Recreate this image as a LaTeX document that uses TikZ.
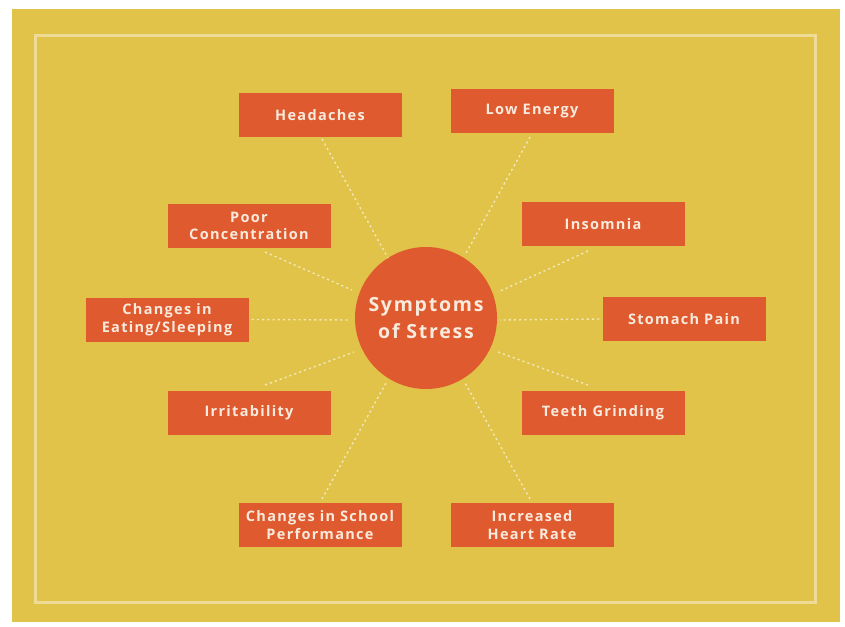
\documentclass[tikz,border=0pt]{standalone}
\usepackage{fontspec}
\setmainfont{Open Sans}[LetterSpace=9]
\definecolor{bgyellow}{HTML}{E0C348}
\definecolor{boxorange}{HTML}{E05A2F}
\definecolor{framecol}{HTML}{EEDB96}
\definecolor{txtcol}{HTML}{F8EBDD}
\definecolor{dotcol}{HTML}{F2E7B8}
\tikzset{
  symbox/.style={fill=boxorange, draw=none, minimum width=163pt, minimum height=44pt, inner sep=0pt,
    text=txtcol, font=\fontsize{14.5}{17.5}\selectfont\bfseries, align=center},
  hub/.style={circle, fill=boxorange, minimum size=142pt, inner sep=0pt, text=txtcol,
    font=\fontsize{19.5}{27}\selectfont\bfseries, align=center},
  spoke/.style={draw=dotcol, line width=1.4pt, dash pattern=on 2.2pt off 3pt}
}
\begin{document}
\begin{tikzpicture}[x=1pt,y=-1pt]
\useasboundingbox (0,0) rectangle (845,626);
\fill[white] (0,0) rectangle (845,626);
\fill[bgyellow] (12,9) rectangle (840,622);
\draw[framecol, line width=3pt] (35.5,36) rectangle (815,602);

\node[hub] (c) at (426,318) {Symptoms\\of Stress};

\node[symbox] (head) at (320,115) {Headaches};
\node[symbox] (low) at (532,111) {Low Energy};
\node[symbox] (poor) at (249,226) {Poor\\Concentration};
\node[symbox] (ins) at (603,224) {Insomnia};
\node[symbox] (eat) at (167,319.5) {Changes in\\Eating/Sleeping};
\node[symbox] (stom) at (684,319) {Stomach Pain};
\node[symbox] (irr) at (249,412.5) {Irritability};
\node[symbox] (teeth) at (603,412.5) {Teeth Grinding};
\node[symbox] (school) at (320,525) {Changes in School\\Performance};
\node[symbox] (heart) at (532,525) {Increased\\Heart Rate};

\coordinate (ch) at (388,258);
\coordinate (cl) at (465,255);
\coordinate (cp) at (352,290);
\coordinate (ci) at (498,292);
\coordinate (ce) at (350,320);
\coordinate (cs) at (500,320);
\coordinate (cr) at (354,352);
\coordinate (ct) at (498,352);
\coordinate (cc) at (386,383);
\coordinate (cz) at (465,383);

\draw[spoke] (322,139) -- (ch);
\draw[spoke] (530,137) -- (cl);
\draw[spoke] (265,252) -- (cp);
\draw[spoke] (588,251) -- (ci);
\draw[spoke] (eat.east) ++(3,0) -- (ce);
\draw[spoke] (stom.west) ++(-3,0) -- (cs);
\draw[spoke] (265,385) -- (cr);
\draw[spoke] (588,385) -- (ct);
\draw[spoke] (322,499) -- (cc);
\draw[spoke] (530,499) -- (cz);
\end{tikzpicture}
\end{document}
